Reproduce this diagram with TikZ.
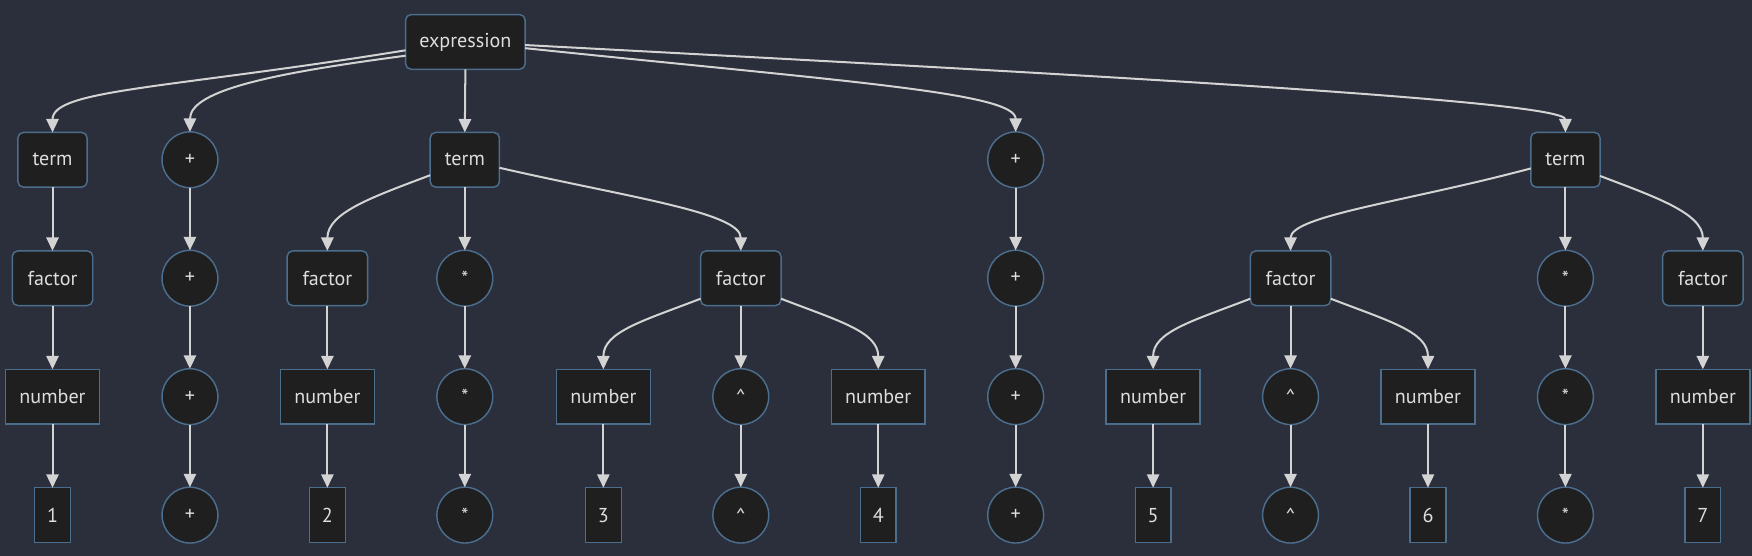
\documentclass[tikz,border=0pt]{standalone}
\usepackage{fontspec}
\setmainfont{PT Sans}
\usetikzlibrary{arrows.meta,calc}
\definecolor{bg}{HTML}{2A2F3B}
\definecolor{nfill}{HTML}{1F1F1F}
\definecolor{nborder}{HTML}{4C6E8E}
\definecolor{edgec}{HTML}{D3D3D3}
\definecolor{txt}{HTML}{DDDDDD}
\begin{document}
\begin{tikzpicture}[x=1pt,y=-1pt,
  base/.style={draw=nborder, fill=nfill, text=txt, line width=1.3pt, inner sep=0pt, outer sep=0pt,
    font=\fontsize{18}{20}\selectfont, minimum height=49pt},
  rbox/.style={base, rectangle, rounded corners=5pt},
  sbox/.style={base, rectangle},
  circ/.style={base, circle, minimum size=50pt},
  termbox/.style={rbox, minimum width=62pt},
  factorbox/.style={rbox, minimum width=72pt},
  numbox/.style={sbox, minimum width=84pt},
  digbox/.style={sbox, minimum width=32pt},
  conn/.style={draw=edgec, line width=1.8pt, -{Triangle[width=11pt,length=12pt]}}
]
\fill[bg] (0,0) rectangle (1568,497.6);
\useasboundingbox (0,0) rectangle (1568,497.6);

% root
\node[rbox, minimum width=107pt] (ex) at (416.5,37.5) {expression};

% column A
\node[termbox] (tA) at (47,143) {term};
\node[factorbox] (fA) at (47,249) {factor};
\node[numbox] (nA) at (47,355) {number};
\node[digbox] (dA) at (47,461) {1};
% column B
\node[circ] (pB1) at (170,143) {+};
\node[circ] (pB2) at (170,249) {+};
\node[circ] (pB3) at (170,355) {+};
\node[circ] (pB4) at (170,461) {+};
% column C
\node[factorbox] (fC) at (293,249) {factor};
\node[numbox] (nC) at (293,355) {number};
\node[digbox] (dC) at (293,461) {2};
% column D
\node[termbox] (tD) at (416,143) {term};
\node[circ] (sD1) at (416,249) {*};
\node[circ] (sD2) at (416,355) {*};
\node[circ] (sD3) at (416,461) {*};
% column E
\node[numbox] (nE) at (540,355) {number};
\node[digbox] (dE) at (540,461) {3};
% column F
\node[factorbox] (fF) at (663,249) {factor};
\node[circ] (cF1) at (663,355) {\textasciicircum};
\node[circ] (cF2) at (663,461) {\textasciicircum};
% column G
\node[numbox] (nG) at (786,355) {number};
\node[digbox] (dG) at (786,461) {4};
% column H
\node[circ] (pH1) at (909,143) {+};
\node[circ] (pH2) at (909,249) {+};
\node[circ] (pH3) at (909,355) {+};
\node[circ] (pH4) at (909,461) {+};
% column I
\node[numbox] (nI) at (1032,355) {number};
\node[digbox] (dI) at (1032,461) {5};
% column J
\node[factorbox] (fJ) at (1155,249) {factor};
\node[circ] (cJ1) at (1155,355) {\textasciicircum};
\node[circ] (cJ2) at (1155,461) {\textasciicircum};
% column K
\node[numbox] (nK) at (1278,355) {number};
\node[digbox] (dK) at (1278,461) {6};
% column L
\node[termbox] (tL) at (1401,143) {term};
\node[circ] (sL1) at (1401,249) {*};
\node[circ] (sL2) at (1401,355) {*};
\node[circ] (sL3) at (1401,461) {*};
% column M
\node[factorbox] (fM) at (1524,249) {factor};
\node[numbox] (nM) at (1524,355) {number};
\node[digbox] (dM) at (1524,461) {7};

% edges from root
\draw[conn] (ex.188) .. controls ($(ex.188)+(-213,34.5)$) and ($(tA.north)+(0,-38.5)$) .. (tA.north);
\draw[conn] (ex.193) .. controls ($(ex.193)+(-113,15)$) and ($(pB1.north)+(0,-38)$) .. (pB1.north);
\draw[conn] (ex.south) -- (tD.north);
\draw[conn] (ex.-6) .. controls ($(ex.-6)+(289,30)$) and ($(pH1.north)+(0,-35)$) .. (pH1.north);
\draw[conn] (ex.-3) .. controls ($(ex.-3)+(529,28)$) and ($(tL.north)+(0,-28)$) .. (tL.north);

% column chains
\draw[conn] (tA) -- (fA);
\draw[conn] (fA) -- (nA);
\draw[conn] (nA) -- (dA);
\draw[conn] (pB1) -- (pB2);
\draw[conn] (pB2) -- (pB3);
\draw[conn] (pB3) -- (pB4);
\draw[conn] (fC) -- (nC);
\draw[conn] (nC) -- (dC);
\draw[conn] (tD) -- (sD1);
\draw[conn] (sD1) -- (sD2);
\draw[conn] (sD2) -- (sD3);
\draw[conn] (nE) -- (dE);
\draw[conn] (fF) -- (cF1);
\draw[conn] (cF1) -- (cF2);
\draw[conn] (nG) -- (dG);
\draw[conn] (pH1) -- (pH2);
\draw[conn] (pH2) -- (pH3);
\draw[conn] (pH3) -- (pH4);
\draw[conn] (nI) -- (dI);
\draw[conn] (fJ) -- (cJ1);
\draw[conn] (cJ1) -- (cJ2);
\draw[conn] (nK) -- (dK);
\draw[conn] (tL) -- (sL1);
\draw[conn] (sL1) -- (sL2);
\draw[conn] (sL2) -- (sL3);
\draw[conn] (fM) -- (nM);
\draw[conn] (nM) -- (dM);

% branching curves
\draw[conn] (tD.204) .. controls ($(tD.204)+(-50,19)$) and ($(fC.north)+(0,-34.5)$) .. (fC.north);
\draw[conn] (tD.-13) .. controls ($(tD.-13)+(113,26)$) and ($(fF.north)+(0,-34.5)$) .. (fF.north);
\draw[conn] (fF.207) .. controls ($(fF.207)+(-52,20)$) and ($(nE.north)+(0,-33.5)$) .. (nE.north);
\draw[conn] (fF.-27) .. controls ($(fF.-27)+(52,20)$) and ($(nG.north)+(0,-33.5)$) .. (nG.north);
\draw[conn] (tL.194) .. controls ($(tL.194)+(-110,29.5)$) and ($(fJ.north)+(0,-31.5)$) .. (fJ.north);
\draw[conn] (tL.-25) .. controls ($(tL.-25)+(47,18)$) and ($(fM.north)+(0,-34)$) .. (fM.north);
\draw[conn] (fJ.207) .. controls ($(fJ.207)+(-52,20)$) and ($(nI.north)+(0,-33.5)$) .. (nI.north);
\draw[conn] (fJ.-27) .. controls ($(fJ.-27)+(52,20)$) and ($(nK.north)+(0,-33.5)$) .. (nK.north);
\end{tikzpicture}
\end{document}
